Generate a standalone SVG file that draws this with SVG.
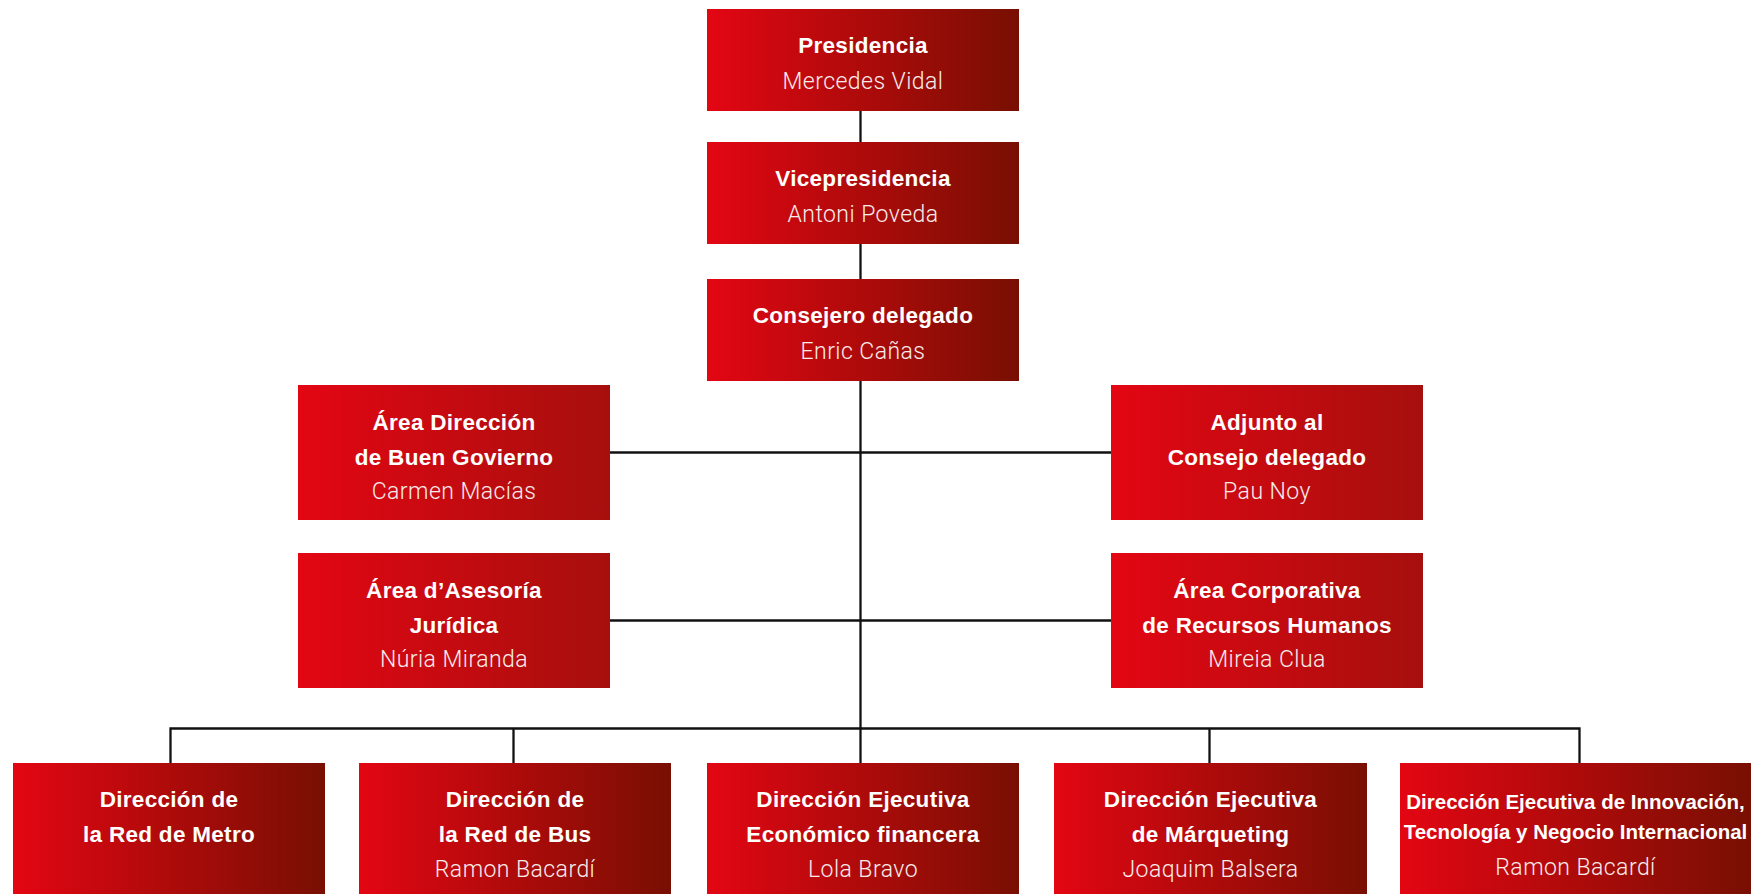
<svg xmlns="http://www.w3.org/2000/svg" width="1760" height="894" viewBox="0 0 1760 894">
  <defs>
    <linearGradient id="gDark" x1="0" y1="0" x2="1" y2="0">
      <stop offset="0" stop-color="#e30613"/>
      <stop offset="1" stop-color="#780f02"/>
    </linearGradient>
    <linearGradient id="gMid" x1="0" y1="0" x2="1" y2="0">
      <stop offset="0" stop-color="#e30613"/>
      <stop offset="1" stop-color="#a60f0d"/>
    </linearGradient>
    <style>
      .dark { fill: url(#gDark); }
      .mid { fill: url(#gMid); }
      .t { font-family: "Liberation Sans", Arial, Helvetica, sans-serif; font-weight: 700; font-size: 22.5px; letter-spacing: 0.3px; fill: #ffffff; text-anchor: middle; }
      .t2 { font-family: "Liberation Sans", Arial, Helvetica, sans-serif; font-weight: 700; font-size: 20.5px; fill: #ffffff; text-anchor: middle; }
      .n { font-family: Roboto, "Liberation Sans", Arial, sans-serif; font-weight: 300; font-size: 23px; letter-spacing: 0.45px; fill: #f7ecec; text-anchor: middle; }
      .c { fill: none; stroke: #111111; stroke-width: 2.3; }
    </style>
  </defs>

  <rect width="1760" height="894" fill="#ffffff"/>

  <!-- connectors -->
  <g id="connectors">
    <path class="c" d="M860.5 111 V728.5"/>
    <path class="c" d="M610 452.5 H1111"/>
    <path class="c" d="M610 620.5 H1111"/>
    <path class="c" d="M170.5 763 V728.5 H1579.5 V763"/>
    <path class="c" d="M513.5 728.5 V763"/>
    <path class="c" d="M860.5 728.5 V763"/>
    <path class="c" d="M1209.5 728.5 V763"/>
  </g>

  <!-- top chain -->
  <g id="presidencia">
    <rect class="dark" x="707" y="9" width="312" height="102"/>
    <text class="t" x="863" y="52.5">Presidencia</text>
    <text class="n" x="863" y="88.5">Mercedes Vidal</text>
  </g>
  <g id="vicepresidencia">
    <rect class="dark" x="707" y="142" width="312" height="102"/>
    <text class="t" x="863" y="185.5">Vicepresidencia</text>
    <text class="n" x="863" y="221.5">Antoni Poveda</text>
  </g>
  <g id="consejero-delegado">
    <rect class="dark" x="707" y="279" width="312" height="102"/>
    <text class="t" x="863" y="322.5">Consejero delegado</text>
    <text class="n" x="863" y="358.5">Enric Cañas</text>
  </g>

  <!-- staff areas -->
  <g id="buen-govierno">
    <rect class="mid" x="298" y="385" width="312" height="135"/>
    <text class="t" x="454" y="429.5">Área Dirección</text>
    <text class="t" x="454" y="464.5">de Buen Govierno</text>
    <text class="n" x="454" y="499">Carmen Macías</text>
  </g>
  <g id="asesoria-juridica">
    <rect class="mid" x="298" y="553" width="312" height="135"/>
    <text class="t" x="454" y="597.5">Área d’Asesoría</text>
    <text class="t" x="454" y="632.5">Jurídica</text>
    <text class="n" x="454" y="667">Núria Miranda</text>
  </g>
  <g id="adjunto-consejo">
    <rect class="mid" x="1111" y="385" width="312" height="135"/>
    <text class="t" x="1267" y="429.5">Adjunto al</text>
    <text class="t" x="1267" y="464.5">Consejo delegado</text>
    <text class="n" x="1267" y="499">Pau Noy</text>
  </g>
  <g id="recursos-humanos">
    <rect class="mid" x="1111" y="553" width="312" height="135"/>
    <text class="t" x="1267" y="597.5">Área Corporativa</text>
    <text class="t" x="1267" y="632.5">de Recursos Humanos</text>
    <text class="n" x="1267" y="667">Mireia Clua</text>
  </g>

  <!-- executive directorates -->
  <g id="red-metro">
    <rect class="dark" x="13" y="763" width="312" height="135"/>
    <text class="t" x="169" y="807">Dirección de</text>
    <text class="t" x="169" y="842">la Red de Metro</text>
  </g>
  <g id="red-bus">
    <rect class="dark" x="359" y="763" width="312" height="135"/>
    <text class="t" x="515" y="807">Dirección de</text>
    <text class="t" x="515" y="842">la Red de Bus</text>
    <text class="n" x="515" y="876.5">Ramon Bacardí</text>
  </g>
  <g id="economico-financiera">
    <rect class="dark" x="707" y="763" width="312" height="135"/>
    <text class="t" x="863" y="807">Dirección Ejecutiva</text>
    <text class="t" x="863" y="842">Económico financera</text>
    <text class="n" x="863" y="876.5">Lola Bravo</text>
  </g>
  <g id="marqueting">
    <rect class="dark" x="1054" y="763" width="313" height="135"/>
    <text class="t" x="1210.5" y="807">Dirección Ejecutiva</text>
    <text class="t" x="1210.5" y="842">de Márqueting</text>
    <text class="n" x="1210.5" y="876.5">Joaquim Balsera</text>
  </g>
  <g id="innovacion">
    <rect class="dark" x="1400" y="763" width="351" height="135"/>
    <text class="t2" x="1575.5" y="809">Dirección Ejecutiva de Innovación,</text>
    <text class="t2" x="1575.5" y="839">Tecnología y Negocio Internacional</text>
    <text class="n" x="1575.5" y="874.5">Ramon Bacardí</text>
  </g>
</svg>
